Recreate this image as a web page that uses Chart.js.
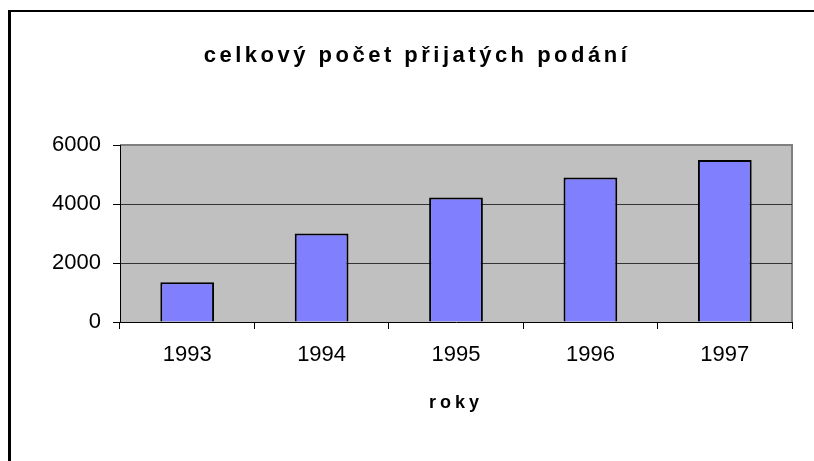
<!DOCTYPE html>
<html>
<head>
<meta charset="utf-8">
<script src="https://cdn.jsdelivr.net/npm/chart.js@4.4.0/dist/chart.umd.min.js"></script>
<style>
  html, body { margin: 0; padding: 0; background: #fff; }
  #wrap { width: 814px; height: 461px; }
</style>
</head>
<body>
<div id="wrap"><canvas id="myChart" width="814" height="461"></canvas></div>
<script>
// 値
const roky = ['1993', '1994', '1995', '1996', '1997'];
const podani = [1350, 3000, 4220, 4900, 5490];
const yTicks = [0, 2000, 4000, 6000];
const nadpis = 'celkový počet přijatých podání';
const osaX = 'roky';

const FONT = "'Liberation Sans', Arial, sans-serif";

// 背景・枠・プロット領域
const excelLook = {
  id: 'excelLook',
  beforeDraw(chart) {
    const { ctx, chartArea: a, width, height } = chart;
    ctx.save();
    ctx.fillStyle = '#fff';
    ctx.fillRect(0, 0, width, height);
    // 外枠（左と上だけ見える）
    ctx.fillStyle = '#000';
    ctx.fillRect(8, 10, 3, height - 10);
    ctx.fillRect(8, 10, width - 8, 2);
    // プロット領域
    ctx.fillStyle = '#c0c0c0';
    ctx.fillRect(a.left, a.top, a.right - a.left, a.bottom - a.top);
    ctx.strokeStyle = '#808080';
    ctx.lineWidth = 2;
    ctx.beginPath();
    ctx.moveTo(a.left, a.top);
    ctx.lineTo(a.right, a.top);
    ctx.lineTo(a.right, a.bottom);
    ctx.stroke();
    ctx.restore();
  },
  afterLayout(chart) {
    // 文字間隔
    const t = chart.titleBlock;
    if (t && !t._spaced) {
      const orig = t.draw;
      t.draw = function() {
        const c = this.ctx;
        c.save();
        c.letterSpacing = '3.5px';
        orig.call(this);
        c.restore();
      };
      t._spaced = true;
    }
    const s = chart.scales.x;
    if (s && !s._spaced) {
      const orig = s.drawTitle;
      s.drawTitle = function() {
        const c = this.ctx;
        c.save();
        c.letterSpacing = '4px';
        orig.call(this);
        c.restore();
      };
      s._spaced = true;
    }
  }
};

const ctx = document.getElementById('myChart').getContext('2d');
const chart = new Chart(ctx, {
  type: 'bar',
  data: {
    labels: roky,
    datasets: [{
      data: podani,
      backgroundColor: '#8080ff',
      borderColor: '#000',
      borderWidth: 2,
      borderSkipped: 'bottom',
      barPercentage: 0.4,
      categoryPercentage: 1
    }]
  },
  options: {
    responsive: false,
    animation: false,
    layout: { padding: { left: 42, right: 22, top: 0, bottom: 0 } },
    plugins: {
      legend: { display: false },
      tooltip: { enabled: false },
      title: {
        display: true,
        text: nadpis,
        color: '#000',
        font: { family: FONT, size: 22, weight: 'bold' },
        padding: { top: 43, bottom: 75.6 }
      }
    },
    scales: {
      x: {
        grid: {
          offset: true,
          drawOnChartArea: false,
          drawTicks: true,
          tickLength: 7,
          color: '#000'
        },
        border: { color: '#000', width: 1 },
        ticks: {
          color: '#000',
          padding: 13,
          font: { family: FONT, size: 22 }
        },
        title: {
          display: true,
          text: osaX,
          color: '#000',
          font: { family: FONT, size: 18, weight: 'bold' },
          padding: { top: 4, bottom: 47 }
        },
        afterFit(scale) { scale.height = 139; }
      },
      y: {
        min: 0,
        max: 6000,
        afterBuildTicks(scale) { scale.ticks = yTicks.map(v => ({ value: v })); },
        grid: {
          color: c => (c.tick && (c.tick.value === 0 || c.tick.value === 6000)) ? 'rgba(0,0,0,0)' : '#333',
          tickColor: '#000',
          tickLength: 7,
          lineWidth: 1
        },
        border: { color: '#000', width: 1 },
        ticks: {
          color: '#000',
          padding: 12,
          font: { family: FONT, size: 22 },
          callback: v => String(v)
        },
        afterFit(scale) { scale.width = 78; }
      }
    }
  },
  plugins: [excelLook]
});
</script>
</body>
</html>
